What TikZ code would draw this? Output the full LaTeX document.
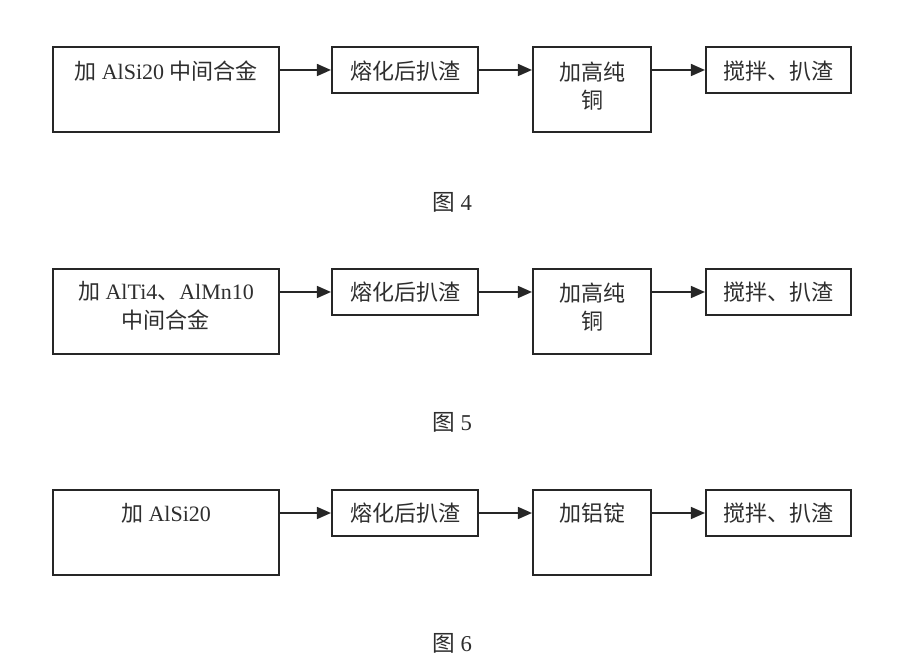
\documentclass[tikz,border=0pt]{standalone}
\usepackage{fontspec}
\setmainfont{Liberation Serif}
\newfontfamily\cjk{Noto Sans CJK SC}
\usetikzlibrary{arrows.meta,fit}
\begin{document}
\begin{tikzpicture}[x=0.75pt,y=-0.75pt,
  box/.style={draw=black!85, line width=1.6pt, inner sep=0pt},
  lbl/.style={font=\fontsize{16.5}{21.5}\selectfont, text=black!82, align=center, inner sep=0pt},
  figcap/.style={font=\fontsize{17}{20}\selectfont, text=black!82, inner sep=0pt},
  arr/.style={draw=black!85, line width=1.2pt, -{Triangle[length=10.5pt,width=9pt]}}]
\useasboundingbox[fill=white] (0,0) rectangle (903,666);

% ---------- Row 1 ----------
\node[box, fit={(53,47) (279,132)}] (a1) {};
\node[box, fit={(332,47) (478,93)}] (b1) {};
\node[box, fit={(533,47) (651,132)}] (c1) {};
\node[box, fit={(706,47) (851,93)}] (d1) {};
\node[lbl] (ta1) at (166,71) {{\cjk 加} AlSi20 {\cjk 中间合金}};
\node[lbl] (tb1) at (405,71) {\cjk 熔化后扒渣};
\node[lbl] (tc1) at (592,86) {\cjk 加高纯\\ \cjk 铜};
\node[lbl] (td1) at (778,71) {\cjk 搅拌、扒渣};
\draw[arr] (a1.east |- b1.west) -- (b1.west);
\draw[arr] (b1.east) -- (c1.west |- b1.east);
\draw[arr] (c1.east |- d1.west) -- (d1.west);
\node[figcap] (cap4) at (452,202) {{\cjk 图} 4};

% ---------- Row 2 ----------
\node[box, fit={(53,269) (279,354)}] (a2) {};
\node[box, fit={(332,269) (478,315)}] (b2) {};
\node[box, fit={(533,269) (651,354)}] (c2) {};
\node[box, fit={(706,269) (851,315)}] (d2) {};
\node[lbl] (ta2) at (166,306) {{\cjk 加} AlTi4{\cjk 、}AlMn10\\ \cjk 中间合金};
\node[lbl] (tb2) at (405,292) {\cjk 熔化后扒渣};
\node[lbl] (tc2) at (592,307) {\cjk 加高纯\\ \cjk 铜};
\node[lbl] (td2) at (778,292) {\cjk 搅拌、扒渣};
\draw[arr] (a2.east |- b2.west) -- (b2.west);
\draw[arr] (b2.east) -- (c2.west |- b2.east);
\draw[arr] (c2.east |- d2.west) -- (d2.west);
\node[figcap] (cap5) at (452,422) {{\cjk 图} 5};

% ---------- Row 3 ----------
\node[box, fit={(53,490) (279,575)}] (a3) {};
\node[box, fit={(332,490) (478,536)}] (b3) {};
\node[box, fit={(533,490) (651,575)}] (c3) {};
\node[box, fit={(706,490) (851,536)}] (d3) {};
\node[lbl] (ta3) at (166,513) {{\cjk 加} AlSi20};
\node[lbl] (tb3) at (405,513) {\cjk 熔化后扒渣};
\node[lbl] (tc3) at (592,513) {\cjk 加铝锭};
\node[lbl] (td3) at (778,513) {\cjk 搅拌、扒渣};
\draw[arr] (a3.east |- b3.west) -- (b3.west);
\draw[arr] (b3.east) -- (c3.west |- b3.east);
\draw[arr] (c3.east |- d3.west) -- (d3.west);
\node[figcap] (cap6) at (452,643) {{\cjk 图} 6};
\end{tikzpicture}
\end{document}
